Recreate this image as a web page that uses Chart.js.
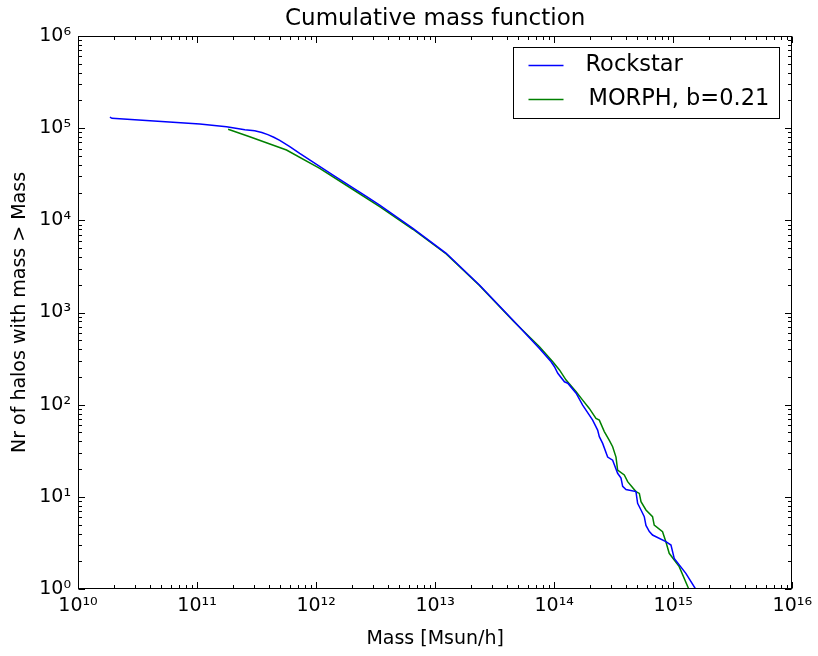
<!DOCTYPE html>
<html>
<head>
<meta charset="utf-8">
<script src="https://cdn.jsdelivr.net/npm/chart.js@4.4.0/dist/chart.umd.min.js"></script>
<style>
  html, body { margin: 0; padding: 0; background: #ffffff; }
  #c { display: block; }
</style>
</head>
<body>
<canvas id="c" width="818" height="656"></canvas>
<script>
// ---------------- data ----------------
const chartTitle = 'Cumulative mass function';
const xAxisTitle = 'Mass [Msun/h]';
const yAxisTitle = 'Nr of halos with mass > Mass';
const seriesNames = ['Rockstar', 'MORPH, b=0.21'];

const xTickValues = [1e10, 1e11, 1e12, 1e13, 1e14, 1e15, 1e16];
const yTickValues = [1e0, 1e1, 1e2, 1e3, 1e4, 1e5, 1e6];

const rockstarMass = [
  1.854e10, 1.93e10, 1.054e11, 1.768e11, 2.52e11, 3.05e11, 3.50e11, 3.93e11,
  4.41e11, 4.95e11, 6.01e11, 7.28e11, 1.387e12, 2.64e12, 3.42e12, 6.50e12,
  1.239e13, 2.355e13, 4.49e13,
  7.52e13, 9.42e13, 1.005e14, 1.072e14, 1.219e14, 1.30e14, 1.528e14, 1.734e14,
  2.104e14, 2.317e14, 2.393e14, 2.553e14, 2.812e14, 3.097e14, 3.41e14, 3.64e14,
  3.76e14, 4.01e14, 4.86e14, 5.02e14, 5.36e14, 5.71e14, 5.90e14, 6.30e14,
  6.70e14, 8.67e14, 9.57e14, 1.019e15, 1.276e15, 1.54e15
];
const rockstarCount = [
  1.32e5, 1.28e5, 1.109e5, 1.035e5, 9.64e4, 9.36e4, 8.97e4, 8.51e4,
  7.96e4, 7.38e4, 6.32e4, 5.33e4, 3.10e4, 1.82e4, 1.466e4, 8.19e3,
  4.39e3, 1.99e3, 828,
  408, 292, 258, 219, 177, 171, 133, 99,
  68, 53, 45, 38, 27, 25, 18, 16,
  13, 12, 11.4, 8.5, 7.2, 6.1, 4.9, 4.2,
  3.85, 3.26, 3.0, 2.15, 1.48, 1.0
];

const morphMass = [
  1.824e11, 2.77e11, 5.64e11, 1.072e12, 2.04e12, 3.42e12, 6.50e12, 1.239e13,
  2.355e13, 4.49e13, 7.52e13, 9.73e13, 1.107e14, 1.259e14, 1.528e14, 1.734e14,
  1.972e14, 2.244e14, 2.393e14, 2.636e14, 2.904e14, 3.097e14, 3.304e14, 3.41e14,
  3.88e14, 4.14e14, 4.86e14, 5.19e14, 5.36e14, 5.90e14, 6.70e14, 6.92e14,
  8.13e14, 8.67e14, 9.25e14, 1.122e15, 1.35e15
];
const morphCount = [
  9.73e4, 8.07e4, 5.79e4, 3.66e4, 2.16e4, 1.406e4, 8.0e3, 4.31e3,
  1.96e3, 819, 426, 292, 238, 185, 138, 112,
  91, 71, 68, 51, 41, 35, 27, 19.5,
  17.3, 14.6, 11.4, 10.9, 8.85, 7.2, 6.1, 4.94,
  4.19, 3.26, 2.44, 1.75, 1.0
];

// ---------------- helpers ----------------
const SUP = {'0':'⁰','1':'¹','2':'²','3':'³','4':'⁴','5':'⁵','6':'⁶','7':'⁷','8':'⁸','9':'⁹','-':'⁻'};
function powLabel(v) {
  const e = Math.round(Math.log10(v));
  return '10' + String(e).split('').map(ch => SUP[ch]).join('');
}
function toPoints(xs, ys) { return xs.map((x, i) => ({ x: x, y: ys[i] })); }

const FONT = 'DejaVu Sans';

// frame, inward ticks and legend (matplotlib style)
const framePlugin = {
  id: 'mplFrame',
  afterDatasetsDraw(chart) {
    const ctx = chart.ctx;
    const a = chart.chartArea;
    const xs = chart.scales.x, ys = chart.scales.y;
    const majorLen = 6.5, minorLen = 3.5;
    ctx.save();
    ctx.strokeStyle = '#000000';
    ctx.lineWidth = 1;
    ctx.beginPath();
    const L = Math.round(a.left) + 0.5, R = Math.round(a.right) - 0.5;
    const T = Math.round(a.top) + 0.5, B = Math.round(a.bottom) - 0.5;
    for (let i = 0; i < xTickValues.length; i++) {
      const v = xTickValues[i];
      const px = Math.round(xs.getPixelForValue(v)) + 0.5;
      ctx.moveTo(px, B); ctx.lineTo(px, B - majorLen);
      ctx.moveTo(px, T); ctx.lineTo(px, T + majorLen);
      if (i < xTickValues.length - 1) {
        for (let k = 2; k <= 9; k++) {
          const mx = Math.round(xs.getPixelForValue(v * k)) + 0.5;
          ctx.moveTo(mx, B); ctx.lineTo(mx, B - minorLen);
          ctx.moveTo(mx, T); ctx.lineTo(mx, T + minorLen);
        }
      }
    }
    for (let i = 0; i < yTickValues.length; i++) {
      const v = yTickValues[i];
      const py = Math.round(ys.getPixelForValue(v)) + 0.5;
      ctx.moveTo(L, py); ctx.lineTo(L + majorLen, py);
      ctx.moveTo(R, py); ctx.lineTo(R - majorLen, py);
      if (i < yTickValues.length - 1) {
        for (let k = 2; k <= 9; k++) {
          const my = Math.round(ys.getPixelForValue(v * k)) + 0.5;
          ctx.moveTo(L, my); ctx.lineTo(L + minorLen, my);
          ctx.moveTo(R, my); ctx.lineTo(R - minorLen, my);
        }
      }
    }
    ctx.stroke();
    ctx.strokeRect(L, T, R - L, B - T);

    // legend box
    const bx = Math.round(a.right) - 278.5, by = Math.round(a.top) + 11.5;
    const bw = 266, bh = 71;
    ctx.fillStyle = '#ffffff';
    ctx.fillRect(bx, by, bw, bh);
    ctx.strokeStyle = '#000000';
    ctx.lineWidth = 1;
    ctx.strokeRect(bx, by, bw, bh);
    const rows = [by + 18, by + 52];
    ctx.font = '22.5px "' + FONT + '"';
    ctx.textBaseline = 'middle';
    ctx.textAlign = 'left';
    chart.data.datasets.forEach((ds, i) => {
      ctx.strokeStyle = ds.borderColor;
      ctx.lineWidth = 1.5;
      ctx.beginPath();
      ctx.moveTo(bx + 15, rows[i]);
      ctx.lineTo(bx + 50, rows[i]);
      ctx.stroke();
      ctx.fillStyle = '#000000';
      ctx.fillText(ds.label, bx + 72 + (i === 1 ? 3 : 0), rows[i]);
    });
    ctx.restore();
  }
};

new Chart(document.getElementById('c').getContext('2d'), {
  type: 'line',
  data: {
    datasets: [
      {
        label: seriesNames[0],
        data: toPoints(rockstarMass, rockstarCount),
        borderColor: '#0000ff',
        borderWidth: 1.5,
        pointRadius: 0,
        fill: false,
        tension: 0
      },
      {
        label: seriesNames[1],
        data: toPoints(morphMass, morphCount),
        borderColor: '#008000',
        borderWidth: 1.5,
        pointRadius: 0,
        fill: false,
        tension: 0
      }
    ]
  },
  options: {
    responsive: false,
    animation: false,
    devicePixelRatio: 1,
    layout: { padding: { left: 0, right: 25, top: 0, bottom: 0 } },
    plugins: {
      legend: { display: false },
      tooltip: { enabled: false },
      title: {
        display: true,
        fullSize: false,
        text: chartTitle,
        color: '#000000',
        font: { family: FONT, size: 23, weight: 'normal' },
        padding: { top: 5, bottom: 3.4 }
      }
    },
    scales: {
      x: {
        type: 'logarithmic',
        min: 1e10,
        max: 1e16,
        grid: { display: false, drawTicks: false },
        border: { display: false },
        afterBuildTicks: (s) => { s.ticks = xTickValues.map(v => ({ value: v })); },
        afterFit: (s) => { s.height = 67; },
        ticks: {
          callback: (v) => powLabel(v),
          color: '#000000',
          font: { family: FONT, size: 19 },
          padding: 6,
          autoSkip: false,
          maxRotation: 0
        },
        title: {
          display: true,
          text: xAxisTitle,
          color: '#000000',
          font: { family: FONT, size: 19 },
          padding: { top: 0, bottom: 6 }
        }
      },
      y: {
        type: 'logarithmic',
        min: 1,
        max: 1e6,
        grid: { display: false, drawTicks: false },
        border: { display: false },
        afterBuildTicks: (s) => { s.ticks = yTickValues.map(v => ({ value: v })); },
        afterFit: (s) => { s.width = 78; },
        ticks: {
          callback: (v) => powLabel(v),
          color: '#000000',
          font: { family: FONT, size: 19 },
          padding: 7,
          autoSkip: false
        },
        title: {
          display: true,
          text: yAxisTitle,
          color: '#000000',
          font: { family: FONT, size: 19 },
          padding: { top: 9, bottom: 0 }
        }
      }
    }
  },
  plugins: [framePlugin]
});
</script>
</body>
</html>
